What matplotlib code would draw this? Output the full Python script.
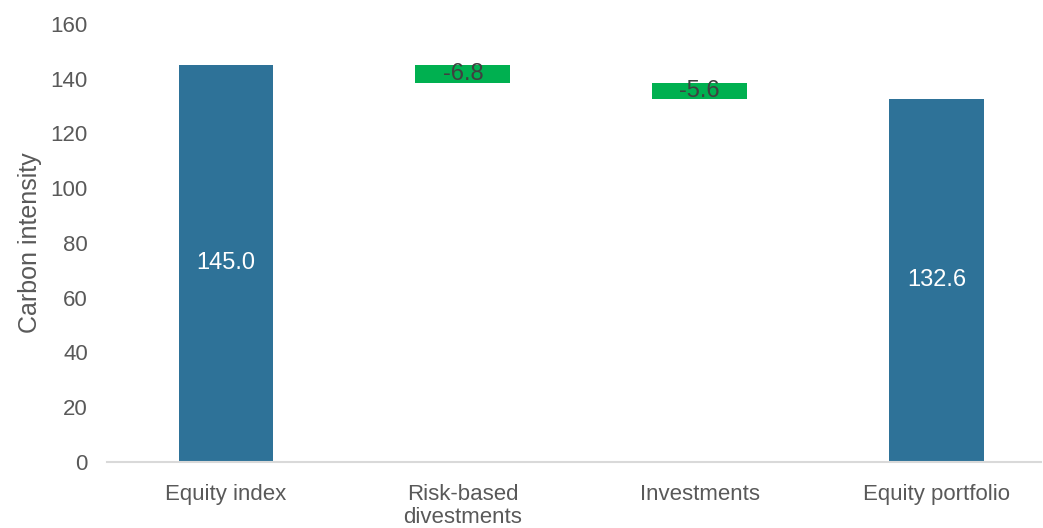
import matplotlib.pyplot as plt

plt.rcParams['font.family'] = ['Liberation Sans', 'DejaVu Sans']

categories = ['Equity index', 'Risk-based\ndivestments', 'Investments', 'Equity portfolio']
start_value = 145.0
changes = [-6.8, -5.6]
end_value = 132.6

blue = '#2E7298'
green = '#00B050'
text_gray = '#595959'

fig = plt.figure(figsize=(10.43, 5.28), dpi=100)
ax = fig.add_axes([0.103, 0.125, 0.895, 0.83])

x = range(len(categories))
width = 0.4

# totals at both ends
ax.bar(0, start_value, width=width, color=blue)
ax.text(0, start_value / 2, f'{start_value:.1f}', ha='center', va='center',
        color='white', fontsize=17)
ax.bar(3, end_value, width=width, color=blue)
ax.text(3, end_value / 2, f'{end_value:.1f}', ha='center', va='center',
        color='white', fontsize=17)

# floating steps in between
level = start_value
for i, ch in enumerate(changes, start=1):
    bottom = level + ch
    ax.bar(i, -ch, bottom=bottom, width=width, color=green)
    ax.text(i, bottom - ch / 2, f'{ch:.1f}', ha='center', va='center',
            color='#404040', fontsize=17)
    level = bottom

ax.set_xlim(-0.5, 3.44)
ax.set_ylim(0, 160)
ax.set_yticks(range(0, 161, 20))
ax.set_xticks(list(x))
ax.set_xticklabels(categories, fontsize=16, color=text_gray, linespacing=1.1)
ax.tick_params(axis='y', labelsize=16, labelcolor=text_gray, length=0, pad=14)
ax.tick_params(axis='x', length=0, pad=16)
ax.set_ylabel('Carbon intensity', fontsize=18, color=text_gray, labelpad=6)

for side in ['top', 'right', 'left']:
    ax.spines[side].set_visible(False)
ax.spines['bottom'].set_color('#D9D9D9')
ax.spines['bottom'].set_linewidth(1.5)

fig.savefig('out.png', dpi=100)
